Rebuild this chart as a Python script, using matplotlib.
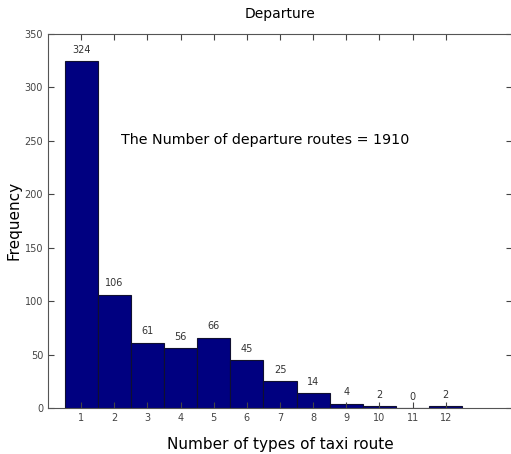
import matplotlib
matplotlib.use("Agg")
from matplotlib import pyplot as plt

routes = [1, 2, 3, 4, 5, 6, 7, 8, 9, 10, 11, 12]
counts = [324, 106, 61, 56, 66, 45, 25, 14, 4, 2, 0, 2]

fig = plt.figure(figsize=(5.11, 4.54), dpi=100)
ax = fig.add_axes([0.094, 0.101, 0.908, 0.825])

ax.bar(routes, counts, width=1.0, color='#000080', edgecolor='#101030', linewidth=0.8)

for x, c in zip(routes, counts):
    ax.text(x, c + 6, str(c), ha='center', va='bottom', fontsize=7, color='#333333')

ax.set_xlim(0, 14)
ax.set_ylim(0, 350)
ax.set_xticks(routes)
ax.set_yticks(range(0, 351, 50))
ax.tick_params(direction='in', top=True, right=True, labelsize=7, colors='#444444', length=4)
for s in ax.spines.values():
    s.set_color('#555555')
    s.set_linewidth(0.8)

ax.text(2.2, 251, "The Number of departure routes = 1910", fontsize=10.3, ha='left', va='center')

ax.set_title("Departure", fontsize=10, pad=11)
ax.set_xlabel("Number of types of taxi route", fontsize=11, labelpad=10)
ax.set_ylabel("Frequency", fontsize=11, labelpad=2)

fig.savefig("out.png", dpi=100)
